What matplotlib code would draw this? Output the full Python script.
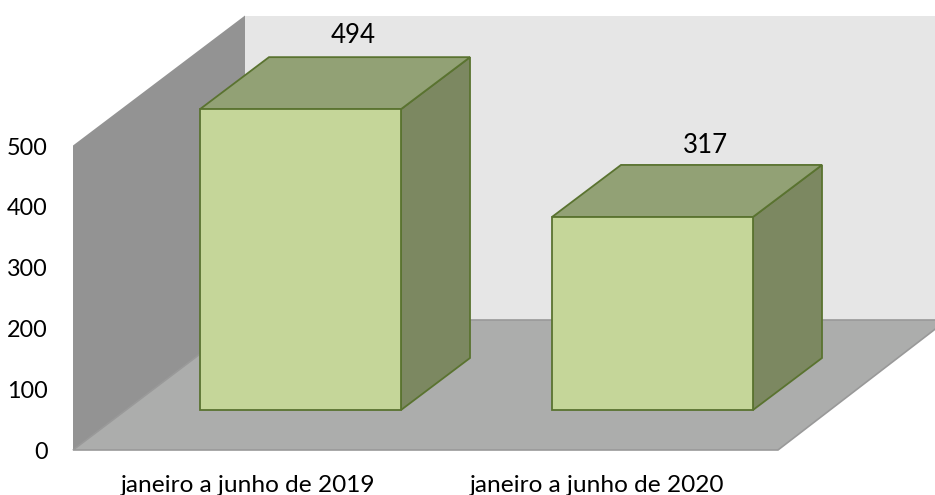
import matplotlib
matplotlib.use("Agg")
import matplotlib.pyplot as plt
from matplotlib.patches import Polygon

categories = ["janeiro a junho de 2019", "janeiro a junho de 2020"]
values = [494, 317]
y_ticks = [0, 100, 200, 300, 400, 500]

plt.rcParams["font.family"] = ["Lato", "DejaVu Sans"]

W, H = 935, 495
PX_PER_UNIT = 0.609
ZERO_ROW = 450

fig = plt.figure(figsize=(W / 100, H / 100), dpi=100)
ax = fig.add_axes([0, 0, 1, 1])
ax.set_xlim(0, W)
# the value axis is scaled so one unit spans PX_PER_UNIT rows
ax.set_ylim(-(H - ZERO_ROW) / PX_PER_UNIT, ZERO_ROW / PX_PER_UNIT)
ax.axis("off")


def rows(px):
    return px / PX_PER_UNIT


# oblique projection of the chart box
box_left, box_right = 73, 778
box_dx, box_dy = 172, rows(130)
y_top = y_ticks[-1]

# back wall, side wall, floor
ax.add_patch(Polygon([(box_left + box_dx, box_dy), (W + 30, box_dy),
                      (W + 30, y_top + box_dy), (box_left + box_dx, y_top + box_dy)],
                     facecolor="#e6e6e6", edgecolor="none", zorder=1))
ax.add_patch(Polygon([(box_left, 0), (box_left + box_dx, box_dy),
                      (box_left + box_dx, y_top + box_dy), (box_left, y_top)],
                     facecolor="#939393", edgecolor="none", zorder=2))
ax.add_patch(Polygon([(box_left, 0), (box_right, 0),
                      (box_right + box_dx - 3, box_dy), (box_left + box_dx, box_dy)],
                     facecolor="#acadac", edgecolor="#999999", linewidth=1.2, zorder=3))

# bars
bar_centres = [300.5, 652.5]
label_centres = [248, 597.5]
label_gaps = [22, 19]
bar_offset_y = rows(40)
bar_w = 201
bar_dx, bar_dy = 69, rows(52)
edge = "#5a7330"

for cx, v, gap in zip(bar_centres, values, label_gaps):
    x0 = cx - bar_w / 2
    x1 = x0 + bar_w
    y0 = bar_offset_y
    y1 = bar_offset_y + v
    style = dict(edgecolor=edge, linewidth=1.3, joinstyle="miter", zorder=4)
    ax.add_patch(Polygon([(x1, y0), (x1 + bar_dx, y0 + bar_dy),
                          (x1 + bar_dx, y1 + bar_dy), (x1, y1)],
                         facecolor="#7c8861", **style))
    ax.add_patch(Polygon([(x0, y1), (x1, y1), (x1 + bar_dx, y1 + bar_dy),
                          (x0 + bar_dx, y1 + bar_dy)],
                         facecolor="#92a175", **style))
    ax.add_patch(Polygon([(x0, y0), (x1, y0), (x1, y1), (x0, y1)],
                         facecolor="#c5d699", **style))
    ax.text(cx + 52.5, y1 + bar_dy + rows(gap), str(v),
            ha="center", va="center", fontsize=18.6, color="#000000", zorder=5)

# axis labels
for t in y_ticks:
    ax.text(48, t - rows(2.5), str(t), ha="right", va="center", fontsize=16.8, color="#000000")
for cx, label in zip(label_centres, categories):
    ax.text(cx, rows(-35.5), label, ha="center", va="center", fontsize=17.6, color="#000000")

fig.savefig("out.png", dpi=100)
